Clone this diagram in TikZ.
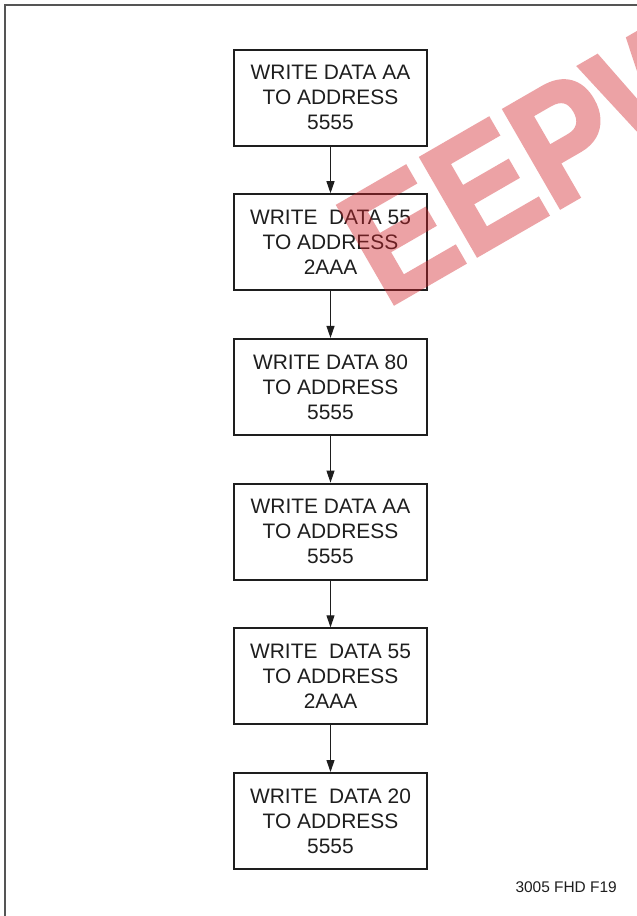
\documentclass[tikz,border=0pt]{standalone}
\usepackage{fontspec}
\setmainfont{Liberation Sans}
\newfontfamily\wmfont[FakeBold=2.5]{Liberation Sans Bold}
\usetikzlibrary{arrows.meta}
\definecolor{framegray}{HTML}{555555}
\definecolor{inkc}{HTML}{1E1E1E}
\definecolor{wmred}{HTML}{D2232A}
\tikzset{
  stepbox/.style={draw=inkc, line width=2bp, minimum width=193bp, minimum height=96bp,
    inner sep=0pt, align=center, text=inkc,
    font=\fontsize{21}{25.1}\selectfont},
  flowarrow/.style={draw=inkc, line width=1bp, -{Triangle[length=12bp,width=8bp]}},
  framestyle/.style={draw=framegray, line width=2bp},
  figlabel/.style={text=inkc, inner sep=0pt, font=\fontsize{15.5}{18}\selectfont},
  watermark/.style={rotate=30, anchor=base west, inner sep=0pt, text=wmred,
    font=\wmfont\fontsize{164}{164}\selectfont}
}
\begin{document}
\begin{tikzpicture}[x=1bp,y=-1bp]
\useasboundingbox (0,0) rectangle (637,916);
\fill[white] (0,0) rectangle (637,916);
\coordinate (ftop) at (640,5);
\coordinate (fcorner) at (5,5);
\coordinate (fbot) at (5,920);
\draw[framestyle] (ftop) -- (fcorner) -- (fbot);

\node[stepbox] (b1) at (330.5,97.5)  {WRITE DATA AA\\TO ADDRESS\\5555};
\node[stepbox] (b2) at (330.5,242.2) {WRITE\ \ DATA 55\\TO ADDRESS\\2AAA};
\node[stepbox] (b3) at (330.5,386.9) {WRITE DATA 80\\TO ADDRESS\\5555};
\node[stepbox] (b4) at (330.5,531.6) {WRITE DATA AA\\TO ADDRESS\\5555};
\node[stepbox] (b5) at (330.5,676.3) {WRITE\ \ DATA 55\\TO ADDRESS\\2AAA};
\node[stepbox] (b6) at (330.5,821)   {WRITE\ \ DATA 20\\TO ADDRESS\\5555};

\draw[flowarrow] (b1.south) -- (b2.north);
\draw[flowarrow] (b2.south) -- (b3.north);
\draw[flowarrow] (b3.south) -- (b4.north);
\draw[flowarrow] (b4.south) -- (b5.north);
\draw[flowarrow] (b5.south) -- (b6.north);

\node[figlabel, anchor=base east] (fig) at (617,892.5) {3005 FHD F19};

\begin{scope}[transparency group, opacity=0.42]
\clip (0,0) rectangle (637,916);
\node[watermark] (wm) at (386,308) {\scalebox{0.88}[1]{EEPW}};
\end{scope}
\end{tikzpicture}
\end{document}
